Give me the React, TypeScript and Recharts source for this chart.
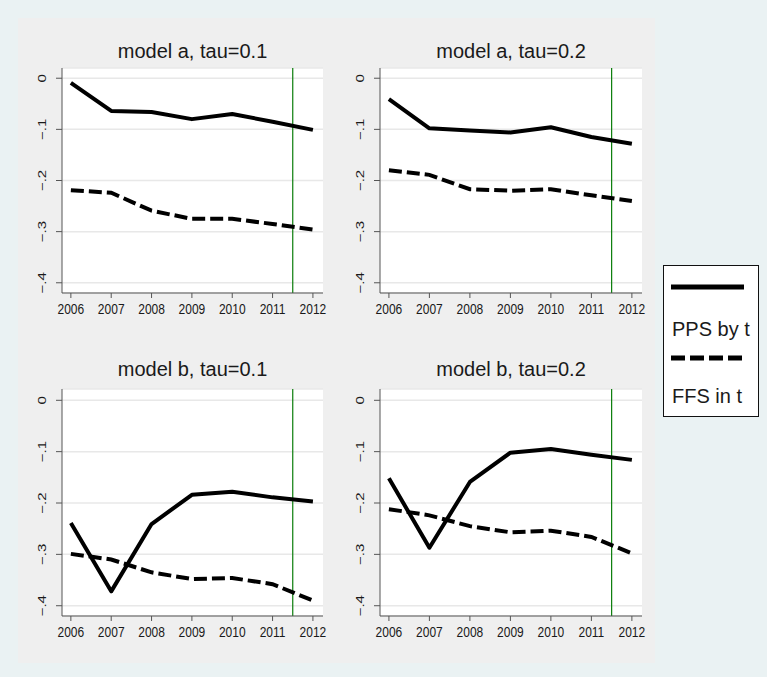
import { LineChart, Line, XAxis, YAxis, CartesianGrid, ReferenceLine } from "recharts";

const YEARS = [2006, 2007, 2008, 2009, 2010, 2011, 2012];
const Y_TICKS = [-0.4, -0.3, -0.2, -0.1, 0];

// model a, tau=0.1
const PPS_A1 = [-0.009, -0.064, -0.066, -0.08, -0.07, -0.085, -0.101];
const FFS_A1 = [-0.219, -0.224, -0.259, -0.275, -0.275, -0.285, -0.296];
// model a, tau=0.2
const PPS_A2 = [-0.041, -0.098, -0.102, -0.106, -0.096, -0.115, -0.128];
const FFS_A2 = [-0.18, -0.189, -0.217, -0.22, -0.217, -0.229, -0.24];
// model b, tau=0.1
const PPS_B1 = [-0.239, -0.372, -0.241, -0.184, -0.178, -0.189, -0.197];
const FFS_B1 = [-0.299, -0.31, -0.335, -0.348, -0.346, -0.358, -0.39];
// model b, tau=0.2
const PPS_B2 = [-0.152, -0.287, -0.159, -0.102, -0.095, -0.106, -0.116];
const FFS_B2 = [-0.212, -0.224, -0.245, -0.257, -0.254, -0.266, -0.298];

const CUTOFF = 2011.5;
const FONT = "'Liberation Sans', Arial, Helvetica, sans-serif";

const PANELS = [
    { title: "model a, tau=0.1", pps: PPS_A1, ffs: FFS_A1, left: 62, top: 68, w: 261, h: 225, yMax: 0.02, titleY: 58 },
    { title: "model a, tau=0.2", pps: PPS_A2, ffs: FFS_A2, left: 380, top: 68, w: 262, h: 225, yMax: 0.02, titleY: 58 },
    { title: "model b, tau=0.1", pps: PPS_B1, ffs: FFS_B1, left: 62, top: 389, w: 261, h: 227, yMax: 0.022, titleY: 376 },
    { title: "model b, tau=0.2", pps: PPS_B2, ffs: FFS_B2, left: 380, top: 389, w: 262, h: 227, yMax: 0.022, titleY: 376 },
];

function XTick(props: any) {
    const { x, y, payload } = props;
    return (
        <text
            transform={`translate(${x},${y + 16}) scale(0.8,1)`}
            textAnchor="middle"
            fontSize={15}
            fontFamily={FONT}
            fill="#1a1a1a"
        >
            {payload.value}
        </text>
    );
}

function YTick(props: any) {
    const { x, y, payload } = props;
    const v = payload.value;
    const label = Math.abs(v) < 1e-9 ? "0" : "\u2212." + Math.round(Math.abs(v) * 10);
    return (
        <text
            transform={`translate(${x - 10},${y}) scale(0.75,1) rotate(-90)`}
            textAnchor="middle"
            fontSize={15}
            fontFamily={FONT}
            fill="#1a1a1a"
        >
            {label}
        </text>
    );
}

function Panel({ p }: { p: (typeof PANELS)[number] }) {
    const data = YEARS.map((year, i) => ({ year, pps: p.pps[i], ffs: p.ffs[i] }));
    return (
        <div style={{ position: "absolute", left: p.left - 50, top: p.top - 10 }}>
            <LineChart
                width={p.w + 60}
                height={p.h + 45}
                data={data}
                margin={{ top: 10, right: 10, bottom: 0, left: 0 }}
            >
                <CartesianGrid vertical={false} stroke="#e8e8e8" strokeWidth={1.5} fill="#ffffff" />
                <XAxis
                    type="number"
                    dataKey="year"
                    domain={[2005.78, 2012.25]}
                    ticks={YEARS}
                    allowDataOverflow
                    height={35}
                    tickSize={5}
                    tickMargin={0}
                    stroke="#555"
                    tick={<XTick />}
                    interval={0}
                />
                <YAxis
                    type="number"
                    domain={[-0.42, p.yMax]}
                    ticks={Y_TICKS}
                    allowDataOverflow
                    width={50}
                    tickSize={6}
                    tickMargin={0}
                    stroke="#555"
                    tick={<YTick />}
                    interval={0}
                />
                <ReferenceLine x={CUTOFF} stroke="#0a7d0a" strokeWidth={1.2} />
                <Line
                    dataKey="pps"
                    stroke="#000"
                    strokeWidth={4}
                    dot={false}
                    strokeLinejoin="round"
                    isAnimationActive={false}
                />
                <Line
                    dataKey="ffs"
                    stroke="#000"
                    strokeWidth={4}
                    strokeDasharray="13 5"
                    dot={false}
                    isAnimationActive={false}
                />
            </LineChart>
        </div>
    );
}

export default function App() {
    return (
        <div
            style={{
                position: "absolute",
                left: 0,
                top: 0,
                width: 767,
                height: 677,
                background: "#eaf2f3",
                overflow: "hidden",
                fontFamily: FONT,
            }}
        >
            <div style={{ position: "absolute", left: 18, top: 18, width: 637, height: 645, background: "#efefef" }} />
            {PANELS.map((p) => (
                <Panel key={p.title} p={p} />
            ))}
            <svg
                width={767}
                height={677}
                style={{ position: "absolute", left: 0, top: 0, pointerEvents: "none" }}
            >
                {PANELS.map((p) => (
                    <text
                        key={p.title}
                        x={p.left + p.w / 2}
                        y={p.titleY}
                        textAnchor="middle"
                        fontSize={20}
                        fontFamily={FONT}
                        fill="#1a1a1a"
                    >
                        {p.title}
                    </text>
                ))}
                {/* legend */}
                <rect x={663.5} y={265.5} width={95} height={151} fill="#fff" stroke="#111" strokeWidth={1} />
                <line x1={671} x2={744} y1={287} y2={287} stroke="#000" strokeWidth={5} />
                <text x={672} y={336} fontSize={20} fontFamily={FONT} fill="#1a1a1a">
                    PPS by t
                </text>
                <line x1={671} x2={744} y1={358} y2={358} stroke="#000" strokeWidth={5} strokeDasharray="14 5" />
                <text x={672} y={403} fontSize={20} fontFamily={FONT} fill="#1a1a1a">
                    FFS in t
                </text>
            </svg>
        </div>
    );
}
